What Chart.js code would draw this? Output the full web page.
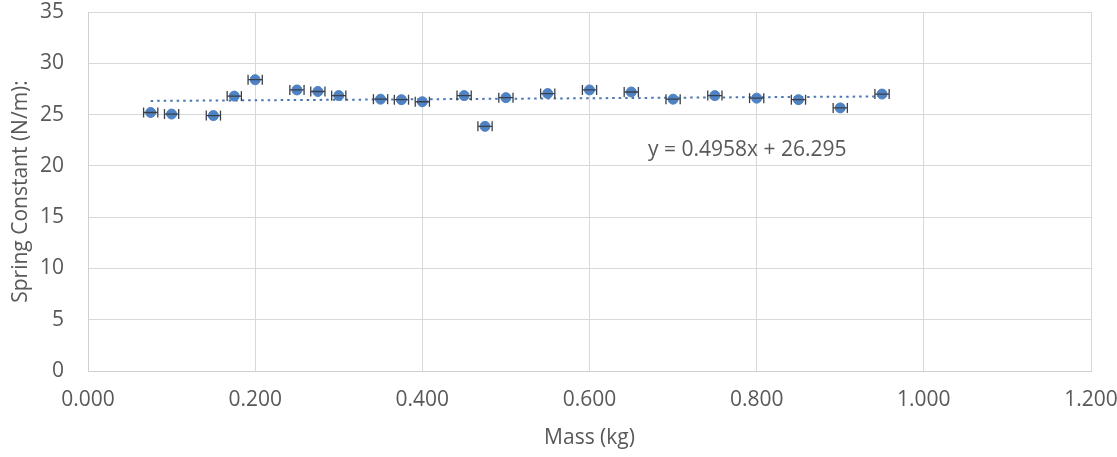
<!DOCTYPE html>
<html>
<head>
<meta charset="utf-8">
<script src="https://cdn.jsdelivr.net/npm/chart.js@4"></script>
<style>
  html, body { margin: 0; padding: 0; background: #fff; }
</style>
</head>
<body>
<canvas id="chart" width="1117" height="457"></canvas>
<script>
// mass (kg) vs spring constant (N/m)
const masses  = [0.075, 0.100, 0.150, 0.175, 0.200, 0.250, 0.275, 0.300, 0.350, 0.375, 0.400, 0.450,
                 0.475, 0.500, 0.550, 0.600, 0.650, 0.700, 0.750, 0.800, 0.850, 0.900, 0.950];
const springK = [25.2, 25.05, 24.9, 26.8, 28.4, 27.4, 27.25, 26.85, 26.5, 26.45, 26.25, 26.85,
                 23.85, 26.65, 27.05, 27.4, 27.2, 26.5, 26.85, 26.6, 26.45, 25.65, 27.0];
const massErr = [0.0085, 0.0085, 0.0085, 0.0085, 0.0085, 0.0085, 0.0085, 0.0085, 0.0085, 0.0085, 0.0085, 0.0085,
                 0.0085, 0.0085, 0.0085, 0.0085, 0.0085, 0.0085, 0.0085, 0.0085, 0.0085, 0.0085, 0.0085];
const trendSlope = 0.4958;
const trendIntercept = 26.295;
const xTicks = [0, 0.2, 0.4, 0.6, 0.8, 1.0, 1.2];
const yTicks = [0, 5, 10, 15, 20, 25, 30, 35];

const FONT = "'Open Sans', sans-serif";
const TEXT = "#595959";
const BLUE = "#4f82c2";

const points = masses.map((m, i) => ({ x: m, y: springK[i] }));

// horizontal error bars, one segment per point, split by gaps
const errPoints = [];
masses.forEach((m, i) => {
  errPoints.push({ x: m - massErr[i], y: springK[i] });
  errPoints.push({ x: m + massErr[i], y: springK[i] });
  errPoints.push({ x: m, y: null });
});

const xMin = Math.min(...masses), xMax = Math.max(...masses);
const trendPoints = [xMin, xMax].map(v => ({ x: v, y: trendSlope * v + trendIntercept }));
const eqText = `y = ${trendSlope}x + ${trendIntercept}`;

// equation label placed in data coordinates
const eqLabel = {
  id: "eqLabel",
  afterDatasetsDraw(chart) {
    const { ctx, scales: { x, y } } = chart;
    ctx.save();
    ctx.font = `21px ${FONT}`;
    ctx.fillStyle = TEXT;
    ctx.textBaseline = "middle";
    ctx.fillText(eqText, x.getPixelForValue(0.67), y.getPixelForValue(21.5));
    ctx.restore();
  }
};

// fixed box sizes, no extra label padding (layout padding decides the plot area)
function fixBox(s, size) {
  if (s.isHorizontal()) s.height = size; else s.width = size;
  s.paddingTop = s.paddingBottom = s.paddingLeft = s.paddingRight = 0;
}

new Chart(document.getElementById("chart").getContext("2d"), {
  type: "scatter",
  data: {
    datasets: [
      {
        data: points,
        backgroundColor: BLUE,
        borderColor: BLUE,
        pointRadius: 5,
        pointHoverRadius: 5,
        order: 2
      },
      {
        type: "line",
        data: errPoints,
        borderColor: "#3a3f48",
        borderWidth: 1.3,
        pointStyle: "line",
        pointRotation: 90,
        pointRadius: 5,
        pointBorderColor: "#3a3f48",
        pointBorderWidth: 1.3,
        spanGaps: false,
        order: 1
      },
      {
        type: "line",
        data: trendPoints,
        borderColor: "#4a78b0",
        borderWidth: 2,
        borderDash: [2.5, 4],
        pointRadius: 0,
        order: 3
      }
    ]
  },
  options: {
    responsive: false,
    devicePixelRatio: 1,
    animation: false,
    layout: { padding: { top: 12, right: 26, left: 0, bottom: 0 } },
    plugins: { legend: { display: false }, tooltip: { enabled: false } },
    scales: {
      x: {
        type: "linear",
        min: 0,
        max: 1.2,
        afterBuildTicks: s => { s.ticks = xTicks.map(v => ({ value: v })); },
        afterFit: s => fixBox(s, 86),
        ticks: {
          callback: v => Number(v).toFixed(3),
          font: { family: FONT, size: 21 },
          color: TEXT,
          padding: 16,
          maxRotation: 0
        },
        grid: { color: "#d9d9d9", drawTicks: false },
        border: { color: "#d0d0d0" },
        title: {
          display: true,
          text: "Mass (kg)",
          font: { family: FONT, size: 21 },
          color: TEXT,
          padding: { top: 0, bottom: 6 }
        }
      },
      y: {
        min: 0,
        max: 35,
        afterBuildTicks: s => { s.ticks = yTicks.map(v => ({ value: v })); },
        afterFit: s => fixBox(s, 88),
        ticks: {
          font: { family: FONT, size: 21 },
          color: TEXT,
          padding: 24
        },
        grid: { color: "#d9d9d9", drawTicks: false },
        border: { color: "#d0d0d0" },
        title: {
          display: true,
          text: "Spring Constant (N/m):",
          font: { family: FONT, size: 21 },
          color: TEXT,
          padding: { top: 8, bottom: 0 }
        }
      }
    }
  },
  plugins: [eqLabel]
});
</script>
</body>
</html>
